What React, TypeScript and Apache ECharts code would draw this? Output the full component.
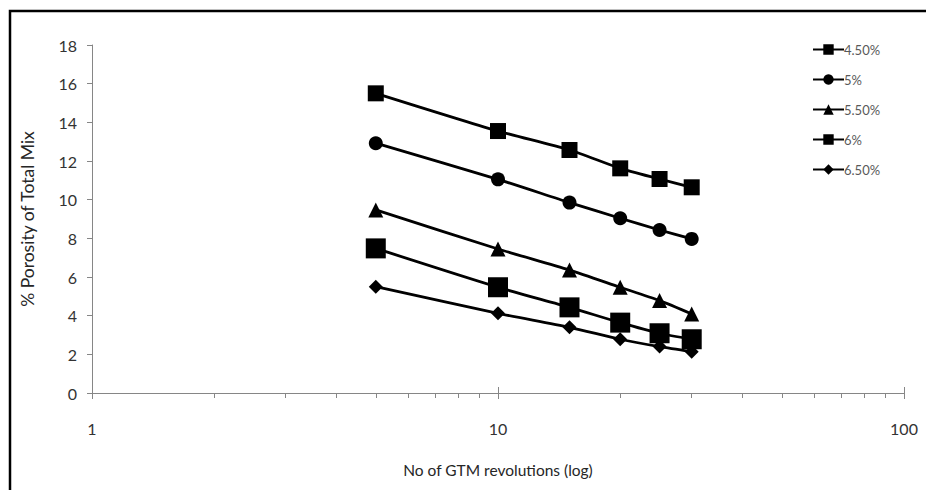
import React, { useEffect, useRef } from "react";
import * as echarts from "echarts";

const revolutions = [5, 10, 15, 20, 25, 30];
const seriesNames = ["4.50%", "5%", "5.50%", "6%", "6.50%"];
const porosity45 = [15.5, 13.55, 12.57, 11.62, 11.07, 10.64];
const porosity5 = [12.92, 11.05, 9.85, 9.04, 8.43, 7.97];
const porosity55 = [9.47, 7.45, 6.36, 5.47, 4.78, 4.09];
const porosity6 = [7.48, 5.47, 4.43, 3.64, 3.09, 2.78];
const porosity65 = [5.5, 4.12, 3.4, 2.78, 2.4, 2.14];
const minorTickValues = [2, 3, 4, 5, 6, 7, 8, 9, 20, 30, 40, 50, 60, 70, 80, 90];

const FONT = "Lato, 'Open Sans', sans-serif";

export default function App() {
  const ref = useRef<HTMLDivElement>(null);
  useEffect(() => {
    if (!ref.current) return;
    const chart = echarts.init(ref.current, null, { renderer: "svg" });
    const values = [porosity45, porosity5, porosity55, porosity6, porosity65];
    const symbols = ["rect", "circle", "triangle", "rect", "diamond"];
    const sizes = [16, 14, 15, 20, 14];
    const axisGray = "#868686";
    chart.setOption({
      animation: false,
      backgroundColor: "#fff",
      textStyle: { fontFamily: FONT },
      grid: { left: 92, right: 22, top: 45, bottom: 97, containLabel: false },
      legend: {
        orient: "vertical",
        left: 807,
        top: 38,
        itemWidth: 31,
        itemHeight: 13,
        itemGap: 17,
        textStyle: { color: "#595959", fontSize: 13, fontFamily: FONT, padding: [0, 0, 0, -5] },
        data: seriesNames,
      },
      xAxis: [
        {
          type: "log",
          logBase: 10,
          min: 1,
          max: 100,
          position: "bottom",
          name: "No of GTM revolutions (log)",
          nameLocation: "middle",
          nameGap: 69,
          nameTextStyle: { fontSize: 15.5, color: "#262626", fontFamily: FONT },
          axisLine: { lineStyle: { color: axisGray, width: 1 } },
          axisTick: { length: 6, lineStyle: { color: axisGray } },
          axisLabel: { fontSize: 16, color: "#333", margin: 27, fontFamily: FONT },
          splitLine: { show: false },
        },
        {
          type: "log",
          logBase: 10,
          min: 1,
          max: 100,
          position: "bottom",
          axisLine: { show: false },
          axisTick: { length: 5, customValues: minorTickValues, lineStyle: { color: axisGray } },
          axisLabel: { show: false },
          splitLine: { show: false },
        },
        {
          type: "log",
          logBase: 10,
          min: 1,
          max: 100,
          position: "bottom",
          axisLine: { show: false },
          axisTick: { inside: true, length: 6, lineStyle: { color: axisGray } },
          axisLabel: { show: false },
          splitLine: { show: false },
        },
      ],
      yAxis: {
        type: "value",
        min: 0,
        max: 18,
        interval: 2,
        name: "% Porosity of Total Mix",
        nameLocation: "middle",
        nameGap: 56,
        nameTextStyle: { fontSize: 17.5, color: "#262626", fontFamily: FONT },
        axisLine: { show: true, lineStyle: { color: axisGray, width: 1 } },
        axisTick: { show: true, length: 5, lineStyle: { color: axisGray } },
        axisLabel: { fontSize: 16, color: "#333", margin: 15, fontFamily: FONT },
        splitLine: { show: false },
      },
      graphic: [
        {
          type: "rect",
          silent: true,
          shape: { x: 10, y: 11, width: 960, height: 520 },
          style: { fill: "none", stroke: "#000", lineWidth: 2.5 },
        },
      ],
      series: seriesNames.map((name, i) => ({
        name,
        type: "line",
        xAxisIndex: 0,
        data: revolutions.map((x, j) => [x, values[i][j]]),
        symbol: symbols[i],
        symbolSize: sizes[i],
        smooth: 0.25,
        lineStyle: { color: "#000", width: 2.8 },
        itemStyle: { color: "#000" },
      })),
    });
    return () => chart.dispose();
  }, []);
  return (
    <div
      ref={ref}
      style={{ position: "fixed", left: 0, top: 0, width: 926, height: 490, background: "#fff" }}
    />
  );
}
